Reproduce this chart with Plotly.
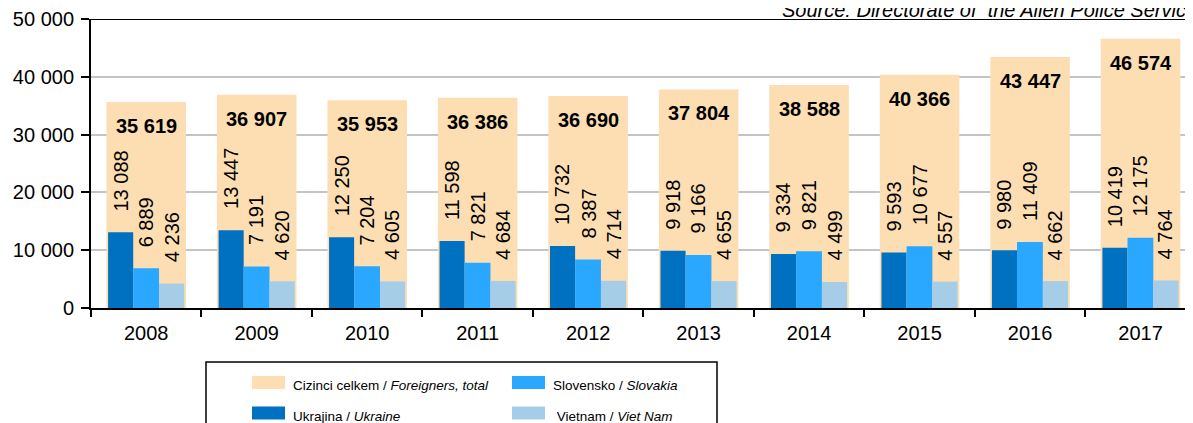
import plotly.graph_objects as go

# ---------------- data ----------------
years = ["2008", "2009", "2010", "2011", "2012", "2013", "2014", "2015", "2016", "2017"]
total = [35619, 36907, 35953, 36386, 36690, 37804, 38588, 40366, 43447, 46574]
ukraine = [13088, 13447, 12250, 11598, 10732, 9918, 9334, 9593, 9980, 10419]
slovakia = [6889, 7191, 7204, 7821, 8387, 9166, 9821, 10677, 11409, 12175]
vietnam = [4236, 4620, 4605, 4684, 4714, 4655, 4499, 4557, 4662, 4764]
y_tick_vals = [0, 10000, 20000, 30000, 40000, 50000]
y_tick_text = ["0", "10 000", "20 000", "30 000", "40 000", "50 000"]
series_names = [
    "Cizinci celkem / <i>Foreigners, total</i>",
    "Ukrajina / <i>Ukraine</i>",
    "Slovensko / <i>Slovakia</i>",
    " Vietnam / <i>Viet Nam</i>",
]
source_text = "<i>Source: Directorate of  the Alien Police Service</i>"

# ---------------- style ----------------
C_TOTAL = "#FDDEB3"
C_UKR = "#0070C0"
C_SVK = "#2AA8FF"
C_VNM = "#A6CDE8"
FONT = "Liberation Sans, Arial, sans-serif"

OFF = 8  # page body margin offset
W, H = 1185, 415
ML, MR, MT, MB = 91 - OFF, 0, 19 - OFF, 115
PW, PH = W - ML - MR, H - MT - MB


def fmt(v):
    return f"{v:,}".replace(",", " ")


def px2x(px):  # px in reference/page coordinates
    return (px - OFF - ML) / PW


def px2y(py):
    return (H - MB - (py - OFF)) / PH


# bar geometry (category units)
bars = [
    (total, C_TOTAL, -0.36, 0.72, series_names[0]),
    (ukraine, C_UKR, -0.345, 0.227, series_names[1]),
    (slovakia, C_SVK, -0.118, 0.234, series_names[2]),
    (vietnam, C_VNM, 0.116, 0.228, series_names[3]),
]

fig = go.Figure()
for vals, col, off, wid, name in bars:
    fig.add_trace(go.Bar(
        x=years, y=vals, width=wid, offset=off, name=name,
        marker=dict(color=col, line=dict(width=0)), showlegend=False,
        hoverinfo="x+y",
    ))

annotations = []
for i, v in enumerate(total):
    annotations.append(dict(
        x=i, y=v, xref="x", yref="y", text=fmt(v), showarrow=False,
        xanchor="center", yanchor="middle", yshift=-24,
        font=dict(family=FONT, size=20, color="black", weight="bold"),
    ))
for vals, col, off, wid, name in bars[1:]:
    for i, v in enumerate(vals):
        annotations.append(dict(
            x=i + off + wid / 2, y=v, xref="x", yref="y", text=fmt(v),
            showarrow=False, textangle=-90, xanchor="center", yanchor="bottom",
            yshift=19, font=dict(family=FONT, size=20, color="black"),
        ))

annotations.append(dict(
    x=px2x(780), y=1, xref="paper", yref="paper", text=source_text,
    showarrow=False, xanchor="left", yanchor="bottom", yshift=-4,
    font=dict(family=FONT, size=20, color="black"),
))

shapes = [
    dict(type="line", xref="paper", yref="y", x0=0, x1=1, y0=50000, y1=50000,
         line=dict(color="black", width=2), layer="above"),
    dict(type="rect", xref="paper", yref="paper",
         x0=px2x(206), x1=px2x(717), y0=px2y(362), y1=px2y(470),
         line=dict(color="black", width=1.5), fillcolor="white"),
]

legend_items = [
    (series_names[0], C_TOTAL, 252, 382.5, 291),
    (series_names[1], C_UKR, 252, 413, 291),
    (series_names[2], C_SVK, 512, 382.5, 551),
    (series_names[3], C_VNM, 512, 413, 551),
]
for name, col, sx, cy, tx in legend_items:
    shapes.append(dict(type="rect", xref="paper", yref="paper",
                       x0=px2x(sx), x1=px2x(sx + 33), y0=px2y(cy - 6.5), y1=px2y(cy + 6.5),
                       line=dict(width=0), fillcolor=col))
    annotations.append(dict(
        x=px2x(tx), y=px2y(cy + 3), xref="paper", yref="paper", text=name,
        showarrow=False, xanchor="left", yanchor="middle",
        font=dict(family=FONT, size=13.5, color="black"),
    ))

fig.update_layout(
    width=W, height=H,
    margin=dict(l=ML, r=MR, t=MT, b=MB, pad=0),
    paper_bgcolor="white", plot_bgcolor="white",
    barmode="overlay",
    font=dict(family=FONT, size=20, color="black"),
    xaxis=dict(
        type="category", range=[-0.5, 9.475], tickson="boundaries",
        ticks="outside", ticklen=7, tickwidth=2, tickcolor="black",
        showline=True, linewidth=2, linecolor="black", showgrid=False,
        tickfont=dict(family=FONT, size=20, color="black"),
        ticklabelstandoff=6,
    ),
    yaxis=dict(
        range=[0, 50000], tickvals=y_tick_vals, ticktext=y_tick_text,
        ticks="outside", ticklen=8, tickwidth=1.5, tickcolor="black",
        showline=True, linewidth=2, linecolor="black",
        showgrid=True, gridcolor="#C4C4C4", gridwidth=1.5, zeroline=False,
        tickfont=dict(family=FONT, size=20, color="black"),
        ticklabelstandoff=3,
    ),
    annotations=annotations,
    shapes=shapes,
)

fig.write_html("out.html")
